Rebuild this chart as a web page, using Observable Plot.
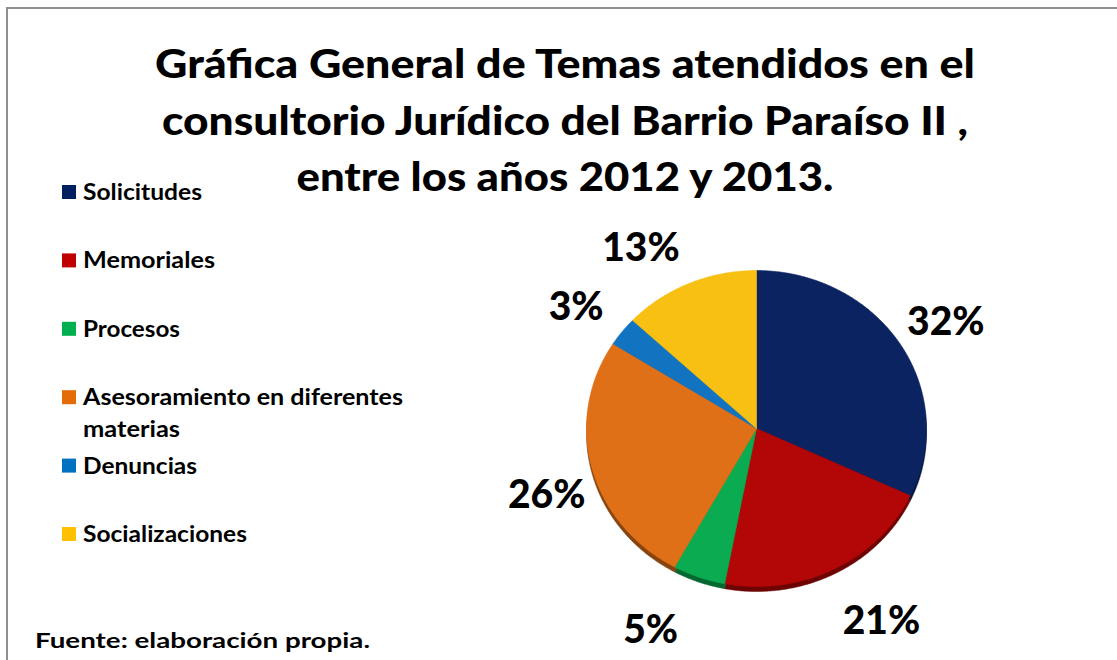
<!DOCTYPE html>
<html><head><meta charset="utf-8">
<script src="https://cdn.jsdelivr.net/npm/d3@7"></script>
<script src="https://cdn.jsdelivr.net/npm/@observablehq/plot@0.6"></script>
<style>
html,body{margin:0;padding:0;background:#fff;}
#wrap{position:relative;width:1117px;height:660px;overflow:hidden;font-family:Lato,"Open Sans",sans-serif;}
#wrap svg{position:absolute;left:0;top:0;overflow:visible;}
</style></head><body><div id="wrap"></div>
<script>
// ---- data ----
const categories = ["Solicitudes","Memoriales","Procesos","Asesoramiento en diferentes materias","Denuncias","Socializaciones"];
const values = [32, 21, 5, 26, 3, 13];
const sliceColors = ["#0b2461","#b30606","#0aab51","#df7018","#1273c0","#f7c012"];
const swatchColors = ["#002060","#c00000","#00b050","#e36c09","#0070c0","#ffc000"];
const legendLines = [["Solicitudes"],["Memoriales"],["Procesos"],["Asesoramiento en diferentes","materias"],["Denuncias"],["Socializaciones"]];
const titleLines = ["Gráfica General de Temas atendidos en el","consultorio Jurídico del Barrio Paraíso II ,","entre los años 2012 y 2013."];
const sourceText = "Fuente: elaboración propia.";

const FONT = "Lato, 'Open Sans', sans-serif";
const rows = categories.map((c, i) => ({category: c, value: values[i], color: sliceColors[i]}));
const arcs = d3.pie().sort(null).value(d => d.value)(rows);

function wedges(colorFn) {
  return arcs.flatMap(a => {
    const n = Math.max(2, Math.ceil((a.endAngle - a.startAngle) / 0.01));
    const col = colorFn(a.data.color);
    const pts = [{category: a.data.category, color: col, x: 0, y: 0}];
    for (let k = 0; k <= n; k++) {
      const t = a.startAngle + (a.endAngle - a.startAngle) * k / n;
      pts.push({category: a.data.category, color: col, x: Math.sin(t), y: Math.cos(t)});
    }
    pts.push({category: a.data.category, color: col, x: 0, y: 0});
    return pts;
  });
}
const facePts = wedges(c => c);
const edgePts = wedges(c => d3.color(c).darker(1.4).formatHex());

const RX = 170, RY = 158;
const labels = arcs.map(a => {
  const m = (a.startAngle + a.endAngle) / 2, s = Math.sin(m), c = Math.cos(m);
  return {text: a.data.value + "%",
          x: (s * 165 + Math.sign(s) * 50) / RX,
          y: (c * 195 + Math.sign(c) * 10 - 9) / RY};
});

const chart = Plot.plot({
  width: 1117, height: 660, margin: 0,
  x: {domain: [-1, 1], range: [586, 926], axis: null},
  y: {domain: [-1, 1], range: [586, 270], axis: null},
  color: {type: "identity"},
  style: {background: "transparent"},
  marks: [
    Plot.line(edgePts, {x: "x", y: "y", z: "category", fill: "color", stroke: "color", strokeWidth: 0.5, dy: 5}),
    Plot.line(facePts, {x: "x", y: "y", z: "category", fill: "color", stroke: "color", strokeWidth: 0.6}),
    Plot.text(labels, {x: "x", y: "y", text: "text", fontSize: 39, fontWeight: 900, fill: "#000", fontFamily: FONT})
  ]
});

const wrap = document.getElementById("wrap");
const svg = d3.select(wrap).append("svg").attr("width", 1117).attr("height", 660);
svg.append("path").attr("d", "M7,660V8H1117").attr("fill", "none").attr("stroke", "#8f8f8f").attr("stroke-width", 2);
wrap.appendChild(chart);
const over = d3.select(wrap).append("svg").attr("width", 1117).attr("height", 660)
  .style("font-family", FONT).style("font-weight", "bold");

// title
const titleBase = [78, 135, 191], titleLen = [820, 806, 537];
titleLines.forEach((t, i) => {
  over.append("text").attr("x", 565).attr("y", titleBase[i]).attr("text-anchor", "middle")
    .attr("font-size", 39).attr("font-weight", 900).attr("fill", "#000")
    .attr("textLength", titleLen[i]).attr("lengthAdjust", "spacingAndGlyphs").text(t);
});

// legend
const legLen = [[119],[132],[97],[320,97],[114],[164]];
legendLines.forEach((lines, i) => {
  const base = 200 + i * 68.4;
  over.append("rect").attr("x", 62).attr("y", base - 15).attr("width", 14).attr("height", 14).attr("fill", swatchColors[i]);
  lines.forEach((t, j) => {
    over.append("text").attr("x", 83).attr("y", base + j * 32).attr("font-size", 22).attr("fill", "#000")
      .attr("textLength", legLen[i][j]).attr("lengthAdjust", "spacingAndGlyphs").text(t);
  });
});

// source
over.append("text").attr("x", 35).attr("y", 648).attr("font-size", 21).attr("fill", "#000")
  .attr("textLength", 335).attr("lengthAdjust", "spacingAndGlyphs").text(sourceText);
</script></body></html>
